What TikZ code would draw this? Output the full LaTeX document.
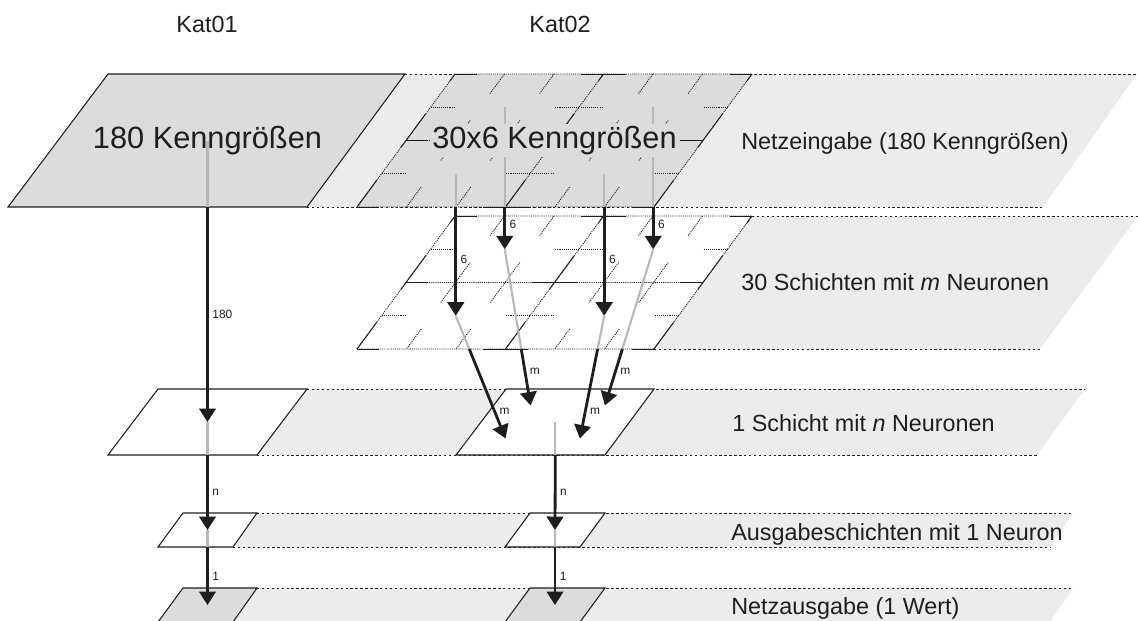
\documentclass[tikz,border=0pt]{standalone}
\usepackage{fontspec}
\setmainfont{Liberation Sans}
\usetikzlibrary{arrows.meta,calc}

\definecolor{ink}{HTML}{1E1E1E}
\definecolor{boxgrey}{HTML}{DCDCDC}
\definecolor{bandgrey}{HTML}{ECECEC}
\definecolor{hidegrey}{HTML}{B8B8B8}

\begin{document}
\begin{tikzpicture}[
    x=0.02cm, y=-0.02cm,
    >={Triangle[length=2.7mm,width=3.3mm]},
    band/.style={fill=bandgrey},
    band edge/.style={draw=ink, line width=0.5pt, dash pattern=on 1.4pt off 1.4pt},
    box/.style={draw=ink, line width=0.6pt},
    fine dots/.style={draw=ink, line width=0.5pt, dash pattern=on 0.6pt off 0.6pt},
    fine solid/.style={draw=ink, line width=0.55pt},
    flow/.style={->, draw=ink, line width=1.6pt},
    hidden/.style={draw=hidegrey, line width=1.2pt},
    count/.style={font=\fontsize{6.8}{7}\selectfont, text=ink, anchor=west, inner sep=1pt, xshift=1pt},
    layer label/.style={font=\fontsize{13.3}{15}\selectfont, text=ink, anchor=base west, inner sep=0pt},
    cat label/.style={font=\fontsize{13.3}{15}\selectfont, text=ink, anchor=base, inner sep=0pt},
    big label/.style={font=\fontsize{17.5}{20}\selectfont, text=ink, inner sep=1.5pt},
    % 2x2 field of stacked sheets, each split in 3x2
    pics/kachel/.style={code={
      \begin{scope}[x={(2.97cm,0cm)}, y={(-0.98cm,-1.33cm)}]
        \fill[#1] (0,0) -- (2,0) -- (2,2) -- (0,2) -- cycle;
        \foreach \i in {0,1,2} {
            \draw[fine dots] (0,\i) -- (2,\i) (\i,0) -- (\i,2);
            \foreach \j in {0,1,2} {
                \draw[fine solid] ({max(\i-0.15,0)},\j) -- ({min(\i+0.15,2)},\j);
                \draw[fine solid] (\i,{max(\j-0.4,0)}) -- (\i,{min(\j+0.1,2)});
            }
        }
        \foreach \i in {0,1,2}
            \foreach \v in {0.5,1.5}
                \draw[fine dots] ({max(\i-0.16,0)},\v) -- ({min(\i+0.16,2)},\v);
        \foreach \u in {0.333,0.667,1.333,1.667}
            \foreach \j in {0,1,2}
                \draw[fine dots] (\u,{max(\j-0.3,0)}) -- (\u,{min(\j+0.3,2)});
        \coordinate (-z11) at (0.5,0.5);
        \coordinate (-z12) at (1.5,0.5);
        \coordinate (-z21) at (0.5,1.5);
        \coordinate (-z22) at (1.5,1.5);
        \coordinate (-mitte) at (1,1);
        \coordinate (-unten) at (0,2);
      \end{scope}
    }}
]
\useasboundingbox (0,0) rectangle (1138,620);

% grey bands behind each layer
\fill[band] (108,74) -- (1137,74) -- (1043,207) -- (8,207) -- cycle;
\fill[band] (455,216) -- (1138,216) -- (1040,349) -- (357,349) -- cycle;
\fill[band] (158,389) -- (1085,389) -- (1037,455) -- (108,455) -- cycle;
\fill[band] (183,513) -- (1073,513) -- (1050,547) -- (158,547) -- cycle;
\fill[band] (183,588) -- (1073,588) -- (1050,622) -- (158,622) -- cycle;

\draw[band edge] (405,74) -- (1137,74) (307,207) -- (1043,207);
\draw[band edge] (752,216) -- (1138,216) (654,349) -- (1040,349);
\draw[band edge] (307,389) -- (1085,389) (257,455) -- (1037,455);
\draw[band edge] (257,513) -- (1073,513) (233,547) -- (1050,547);
\draw[band edge] (257,588) -- (1073,588);

% Kat01 layers
\draw[box, fill=boxgrey] (108,74) -- (405,74) -- (307,207) -- (8,207) -- cycle;
\draw[box, fill=white] (158,389) -- (307,389) -- (257,455) -- (108,455) -- cycle;
\draw[box, fill=white] (183,513) -- (257,513) -- (233,547) -- (158,547) -- cycle;
\draw[box, fill=boxgrey] (183,588) -- (257,588) -- (233,622) -- (158,622) -- cycle;

% Kat02 layers
\pic (ein) at (455,74) {kachel=boxgrey};
\pic (sch) at (455,216) {kachel=white};
\draw[box, fill=white] (506,389) -- (654,389) -- (605,455) -- (456,455) -- cycle;
\draw[box, fill=white] (530,513) -- (605,513) -- (580,547) -- (505,547) -- cycle;
\draw[box, fill=boxgrey] (530,588) -- (605,588) -- (580,622) -- (505,622) -- cycle;

% points the connectors run through
\coordinate (k1in)   at (207.5,140.5);
\coordinate (k1inU)  at (207.5,207);
\coordinate (k1hid)  at (207.5,422);
\coordinate (k1hidU) at (207.5,455);
\coordinate (k1aus)  at (207.5,530);
\coordinate (k1ausU) at (207.5,547);
\coordinate (k1netz) at (207.5,605);

\coordinate (k2hid)  at (555.3,422);
\coordinate (k2hidU) at (555.3,455);
\coordinate (k2aus)  at (555,530);
\coordinate (k2ausU) at (555,547);
\coordinate (k2netz) at (555,605);

\coordinate (h11) at (530.6,405.5);
\coordinate (h12) at (604.9,405.5);
\coordinate (h21) at (505.6,438.5);
\coordinate (h22) at (579.9,438.5);

% Kat01 chain
\draw[hidden] (k1in) -- (k1inU);
\draw[flow] (k1inU) -- node[count]{180} (k1hid);
\draw[hidden] (k1hid) -- (k1hidU);
\draw[flow] (k1hidU) -- node[count]{n} (k1aus);
\draw[hidden] (k1aus) -- (k1ausU);
\draw[flow] (k1ausU) -- node[count]{1} (k1netz);

% Kat02: input groups down to the 30 layers
\foreach \z in {11,12,21,22}
    \draw[hidden] (ein-z\z) -- (ein-z\z |- ein-unten);
\node[big label, fill=boxgrey] (in2) at (ein-mitte) {30x6 Kenngrößen};
\node[big label] (in1) at (k1in) {180 Kenngrößen};

\draw[flow] (ein-z11 |- ein-unten) -- node[count, pos=0.4]{6} (sch-z11);
\draw[flow] (ein-z12 |- ein-unten) -- node[count, pos=0.4]{6} (sch-z12);
\draw[flow] (ein-z21 |- ein-unten) -- node[count, pos=0.48]{6} (sch-z21);
\draw[flow] (ein-z22 |- ein-unten) -- node[count, pos=0.48]{6} (sch-z22);

% Kat02: 30 layers into the hidden layer (grey until the layer edge)
\foreach \z/\t in {11/0.638, 12/0.638, 21/0.271, 22/0.271} {
    \coordinate (x\z) at ($(sch-z\z)!\t!(h\z)$);
    \draw[hidden] (sch-z\z) -- (x\z);
}
\draw[flow] (x11) -- node[count, pos=0.4]{m} (h11);
\draw[flow] (x12) -- node[count, pos=0.4]{m} (h12);
\draw[flow] (x21) -- node[count, pos=0.7]{m} (h21);
\draw[flow] (x22) -- node[count, pos=0.7]{m} (h22);

\draw[hidden] (k2hid) -- (k2hidU);
\draw[flow] (k2hidU) -- node[count]{n} (k2aus);
\draw[hidden] (k2aus) -- (k2ausU);
\draw[flow] (k2ausU) -- node[count]{1} (k2netz);

% titles
\node[cat label] (kat1) at (207,32) {Kat01};
\node[cat label] (kat2) at (560,32) {Kat02};

\node[layer label] (lab1) at (741,149) {Netzeingabe (180 Kenngrößen)};
\node[layer label] (lab2) at (741,290) {30 Schichten mit \textit{m} Neuronen};
\node[layer label] (lab3) at (732,431) {1 Schicht mit \textit{n} Neuronen};
\node[layer label] (lab4) at (731,540) {Ausgabeschichten mit 1 Neuron};
\node[layer label] (lab5) at (731,614) {Netzausgabe (1 Wert)};

\end{tikzpicture}
\end{document}
